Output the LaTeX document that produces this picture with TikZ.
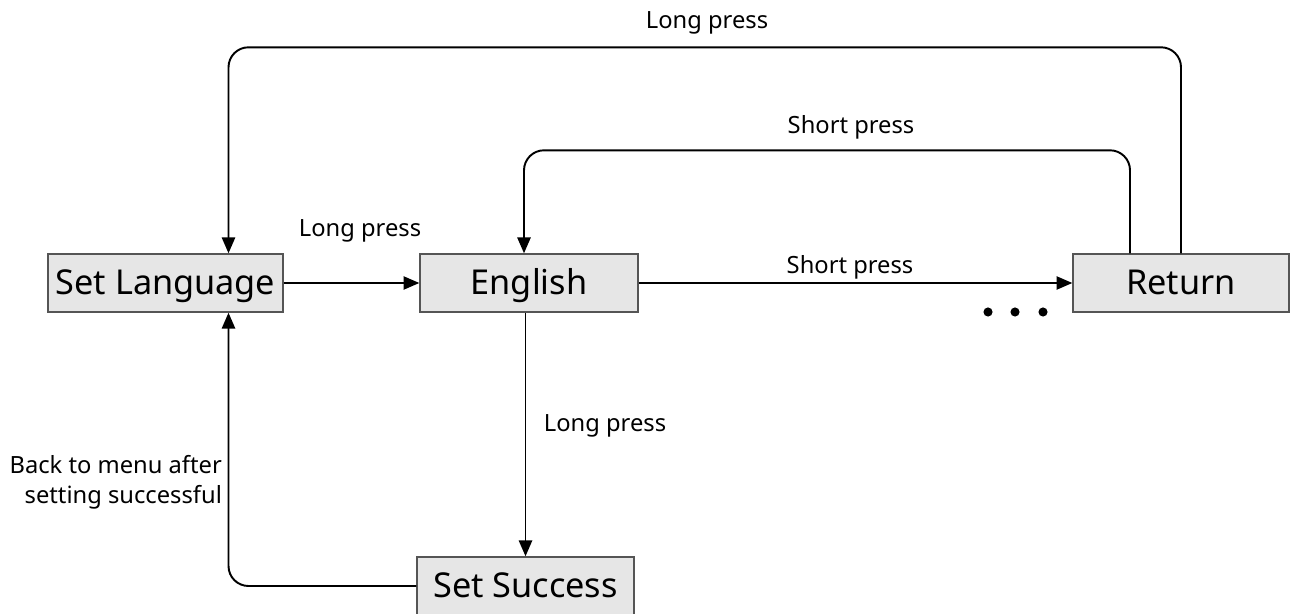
\documentclass[tikz,border=0pt]{standalone}
\usepackage{fontspec}
\setmainfont{Noto Sans}
\usepackage{tikz}
\usetikzlibrary{arrows.meta, positioning, calc}
\definecolor{boxfill}{RGB}{230,230,230}
\definecolor{boxline}{RGB}{85,85,85}
\tikzstyle{menubox} = [rectangle, draw=boxline, fill=boxfill, line width=0.8pt, minimum width=4.36cm, minimum height=1.16cm, inner sep=2pt, text height=17pt, text depth=3.5pt, font=\fontsize{19.5}{22}\selectfont]
\tikzstyle{arrow} = [line width=1.1pt, -{Triangle[length=9pt,width=7.5pt]}, rounded corners=0.4cm]
\tikzstyle{presslabel} = [font=\fontsize{13.5}{17}\selectfont, inner sep=1pt]

\begin{document}
\begin{tikzpicture}[x=0.02cm, y=-0.02cm]
    \useasboundingbox (0,0) rectangle (1293,614);
    \node[menubox, minimum width=4.7cm] (setlang) at (165.5,283) {Set Language};
    \node[menubox] (english) at (529,283) {English};
    \node[menubox, minimum width=4.32cm] (return) at (1181,283) {Return};
    \node[menubox, minimum width=4.34cm] (success) at (525.5,586) {Set Success};

    \draw[arrow] (setlang.east) -- (english.west);
    \draw[arrow] (english.east) -- (return.west);
    \draw[arrow] (success.north |- english.south) -- (success.north);
    \draw[arrow] (return.north) -- ++(0,-206) -| ($(setlang.north)+(63,0)$);
    \draw[arrow] ($(return.north)+(-51,0)$) -- ++(0,-103) -| ($(english.north)+(-5,0)$);
    \draw[arrow] (success.west) -| ($(setlang.south)+(63,0)$);

    % more entries follow
    \foreach \x in {988,1015,1043}
        \fill (\x,312) circle (2.6pt);

    \node[presslabel] (toplong) at (707,23) {Long press};
    \node[presslabel] (topshort) at (851,127) {Short press};
    \node[presslabel] (enterlong) at (360,231) {Long press};
    \node[presslabel] (nextshort) at (850,267) {Short press};
    \node[presslabel] (confirmlong) at (605,426) {Long press};
    \node[presslabel, align=right, anchor=east] (backnote) at (224,482) {Back to menu after\\setting successful};
\end{tikzpicture}
\end{document}
